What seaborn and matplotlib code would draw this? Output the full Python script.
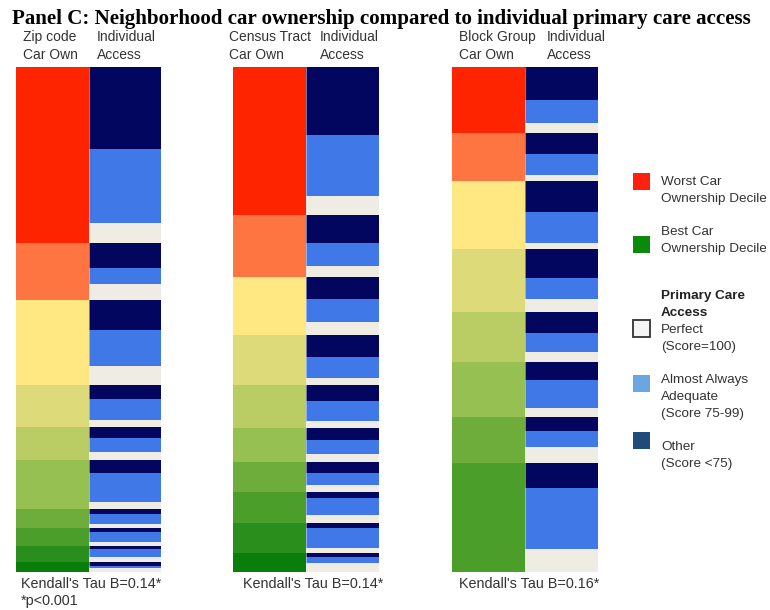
import matplotlib
matplotlib.use("Agg")
import matplotlib.pyplot as plt
from matplotlib.patches import Rectangle
import numpy as np
import seaborn as sns

sns.set_style("white")
plt.rcParams["font.family"] = ["Liberation Sans", "DejaVu Sans"]

# Individual access mix within each neighbourhood car-ownership decile
# (worst decile first). Units: share of the cohort, same scale for all panels.
zip_other    = [82, 25, 30, 14, 11, 13, 5, 4, 3, 4]
zip_adequate = [74, 16, 36, 21, 14, 29, 10, 10, 8, 2]
zip_perfect  = [20, 16, 19, 7, 8, 7, 4, 4, 5, 4]

tract_other    = [68, 28, 22, 22, 16, 12, 11, 6, 5, 4]
tract_adequate = [61, 23, 23, 21, 20, 14, 12, 17, 20, 6]
tract_perfect  = [19, 11, 13, 7, 7, 8, 7, 8, 5, 9]

bg_other    = [33, 21, 31, 29, 21, 18, 14, 25]
bg_adequate = [23, 21, 31, 21, 19, 28, 16, 61]
bg_perfect  = [10, 6, 6, 13, 10, 9, 16, 23]

panel_headers = ["Zip code\nCar Own", "Census Tract\nCar Own", "Block Group\nCar Own"]
access_header = "Individual\nAccess"
kendall_labels = ["Kendall's Tau B=0.14*", "Kendall's Tau B=0.14*", "Kendall's Tau B=0.16*"]
footnote = "*p<0.001"
title = "Panel C: Neighborhood car ownership compared to individual primary care access"

decile_colors_10 = ["#FF2400", "#FF7542", "#FFE882", "#DDDA7A", "#BACC64",
                    "#96C152", "#6EAC3C", "#4B9E2A", "#2A8E1C", "#0A7E0A"]
decile_colors_8 = ["#FF2400", "#FF7542", "#FFE882", "#DDDA7A", "#BACC64",
                   "#96C152", "#6EAC3C", "#4B9E2A"]
access_colors = ["#03065E", "#4178E8", "#EFEDE3"]  # other, adequate, perfect

W, H = 770, 610
fig = plt.figure(figsize=(W / 100, H / 100), dpi=100)


def px_axes(x0, x1, y0, y1):
    return fig.add_axes([x0 / W, 1 - y1 / H, (x1 - x0) / W, (y1 - y0) / H])


def stacked_segment(ax, xpos, height, bottom, color):
    sns.barplot(x=[float(xpos)], y=[height], bottom=bottom, color=color,
                width=1.0, native_scale=True, saturation=1, errorbar=None,
                linewidth=0, ax=ax)


def draw_panel(ax, other, adequate, perfect, colors):
    other, adequate, perfect = map(np.asarray, (other, adequate, perfect))
    deciles = other + adequate + perfect
    top = 0.0
    for d, c, parts in zip(deciles, colors, zip(other, adequate, perfect)):
        stacked_segment(ax, 0, d, top, c)
        inner = top
        for v, ac in zip(parts, access_colors):
            stacked_segment(ax, 1, v, inner, ac)
            inner += v
        top += d
    ax.set_xlim(-0.5, 1.5)
    ax.set_ylim(top, 0)
    ax.set_axis_off()


panels = [
    ((16, 161), zip_other, zip_adequate, zip_perfect, decile_colors_10),
    ((233, 379), tract_other, tract_adequate, tract_perfect, decile_colors_10),
    ((452, 598), bg_other, bg_adequate, bg_perfect, decile_colors_8),
]
for (x0, x1), o, a, p, cols in panels:
    ax = px_axes(x0, x1, 67, 572)
    draw_panel(ax, o, a, p, cols)
    # faint seam between the two columns
    ax.axvline(0.5, color="#E8E8F0", lw=0.6, alpha=0.6)

# Overlay in pixel coordinates for the titles, labels and legend
ov = fig.add_axes([0, 0, 1, 1], facecolor="none")
ov.set_xlim(0, W)
ov.set_ylim(H, 0)
ov.set_axis_off()

txt = "#333333"
ov.text(12, 24, title, family=["Liberation Serif", "DejaVu Serif"],
        fontweight="bold", fontsize=15.1, color="black", va="baseline")

header_x = [(23, 97), (229, 320), (459, 547)]
for (hx, ax_x), head in zip(header_x, panel_headers):
    ov.text(hx, 46, head, fontsize=10.0, color=txt, va="center", linespacing=1.3)
    ov.text(ax_x, 46, access_header, fontsize=10.0, color=txt, va="center",
            linespacing=1.3)

for fx, lab in zip([21, 243, 459], kendall_labels):
    ov.text(fx, 584, lab, fontsize=10.4, color=txt, va="center")
ov.text(21, 601, footnote, fontsize=10.4, color=txt, va="center")

# Legend
legend_items = [
    (173, "#FF2010", None, ["Worst Car", "Ownership Decile"], 182),
    (236, "#0A8A0A", None, ["Best Car", "Ownership Decile"], 232),
    (320, "#F4F4F4", "#333333", ["Perfect", "(Score=100)"], 330),
    (375, "#6AA6E0", None, ["Almost Always", "Adequate", "(Score 75-99)"], 380),
    (432, "#1F4A7A", None, ["Other", "(Score <75)"], 447),
]
for y, fc, ec, lines, ty in legend_items:
    ov.add_patch(Rectangle((633, y), 17, 17, facecolor=fc,
                           edgecolor=ec if ec else fc,
                           linewidth=1.3 if ec else 0))
    for i, line in enumerate(lines):
        ov.text(661, ty + i * 16.8, line, fontsize=9.7, color=txt, va="center")

ov.text(661, 296, "Primary Care", fontsize=9.7, color="#222222",
        fontweight="bold", va="center")
ov.text(661, 313, "Access", fontsize=9.7, color="#222222",
        fontweight="bold", va="center")

fig.savefig("out.png", dpi=100)
